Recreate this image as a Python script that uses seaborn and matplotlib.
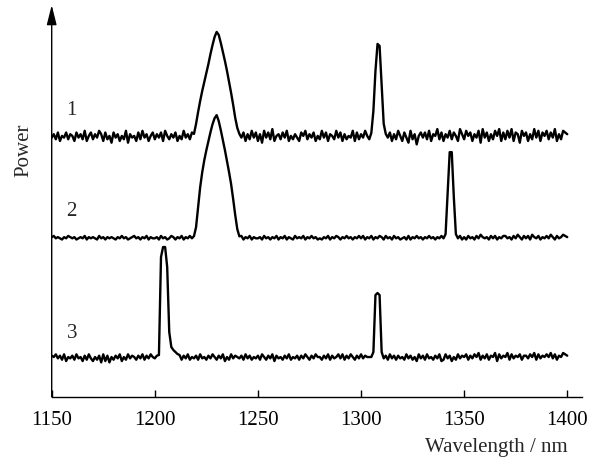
import numpy as np
import pandas as pd
import seaborn as sns
import matplotlib.pyplot as plt

# wavelength grid, 1 nm steps
wavelength = np.arange(1150, 1401)

# baseline level of each trace (arbitrary power units)
base = {"1": 260, "2": 159, "3": 39}

# baseline noise, one digit per nm (digit - 4.5), read by eye
noise1 = ("4637254736 5274638257 3648627351 7462538164 5273846257 "
          "3647285364 7253846375 5555555555 5555555555 5547263847 "
          "2618473925 6374825364 2758364725 3847265384 7263548273 "
          "6485355555 5554726385 2741836057 4738265937 2648375296 "
          "3857264819 4726385927 3849276185 7263948275 8374926387 6")
noise2 = ("5645435465 4534546354 5436453545 4354645345 6453546354 "
          "4536453465 3546354645 5555555555 5555555555 5463546354 "
          "4536453546 3546354364 5463546453 4354635465 3546453546 "
          "4635463546 5364536453 4536354645 3546453546 4555555463 "
          "5364536475 4536463546 6453647536 4637546354 6475364576 5")
noise3 = ("6574637254 6374526374 2536172615 3647253746 5364736475 "
          "4655555555 5553647354 6374536475 3647253746 5463746354 "
          "6375364726 4536473546 3647536475 5364736457 4736475364 "
          "7465555555 5463746364 5374635274 6374536472 3746253746 "
          "5736475836 4736582746 5837465736 6475837465 7584736587 6")
noise_scale = {"1": 1.7, "2": 1.2, "3": 1.35}

# peak heights above baseline: (first wavelength, heights per nm)
peaks = {
    "1": [(1219, [2, 12, 24, 35, 45, 54, 63, 72, 82, 91, 99, 104, 101, 93,
                  84, 75, 65, 54, 43, 31, 18, 8, 2]),
          (1305, [3, 25, 65, 92, 90, 50, 12, 2])],
    "2": [(1219, [1, 10, 30, 50, 65, 77, 87, 96, 105, 113, 119, 122, 116,
                  107, 97, 87, 76, 65, 53, 38, 22, 8, 2]),
          (1341, [3, 45, 85, 85, 40, 3])],
    "3": [(1202, [2, 100, 110, 110, 90, 25, 10, 7, 5, 3, 2]),
          (1306, [5, 62, 64, 62, 5])],
}

noises = {"1": noise1, "2": noise2, "3": noise3}

frames = []
for name in ["1", "2", "3"]:
    digits = np.array([int(c) for c in noises[name].replace(" ", "")])
    y = base[name] + (digits - 4.5) * noise_scale[name]
    for start, heights in peaks[name]:
        i = start - wavelength[0]
        y[i:i + len(heights)] += np.array(heights)
    frames.append(pd.DataFrame({"wavelength": wavelength, "power": y, "trace": name}))
df = pd.concat(frames, ignore_index=True)

sns.set_style("ticks")
plt.rcParams["font.family"] = ["Liberation Serif", "DejaVu Serif"]

fig, ax = plt.subplots(figsize=(5.95, 4.61), dpi=100)
fig.subplots_adjust(left=0.0869, right=0.9776, bottom=0.1395, top=0.989)

sns.lineplot(data=df, x="wavelength", y="power", units="trace", estimator=None,
             color="black", linewidth=1.7, ax=ax)

ax.set_xlim(1150, 1407)
ax.set_ylim(0, 391.7)
ax.set_xticks([1150, 1200, 1250, 1300, 1350, 1400])
ax.set_yticks([])
ax.tick_params(axis="x", direction="in", length=5, width=1, labelsize=15, pad=10, colors="black")
for s in ["top", "right", "left"]:
    ax.spines[s].set_visible(False)
ax.spines["bottom"].set_color("black")
ax.spines["bottom"].set_linewidth(1)
ax.set_xlabel("")
ax.set_ylabel("")

# y axis drawn as an arrow
ax.annotate("", xy=(0, 1), xytext=(0, 0), xycoords="axes fraction",
            arrowprops=dict(arrowstyle="-|>,head_length=1.0,head_width=0.25",
                            color="black", lw=1, mutation_scale=12,
                            shrinkA=0, shrinkB=0))

ax.text(-0.052, 0.63, "Power", transform=ax.transAxes, rotation=90,
        ha="center", va="center", fontsize=15)
ax.text(1400, -0.131, "Wavelength / nm", transform=ax.get_xaxis_transform(),
        ha="right", va="center", fontsize=15)

for name, yy in [("1", 286.7), ("2", 185), ("3", 63.4)]:
    ax.text(1159.7, yy, name, ha="center", va="center", fontsize=15)

fig.savefig("out.png", dpi=100)
